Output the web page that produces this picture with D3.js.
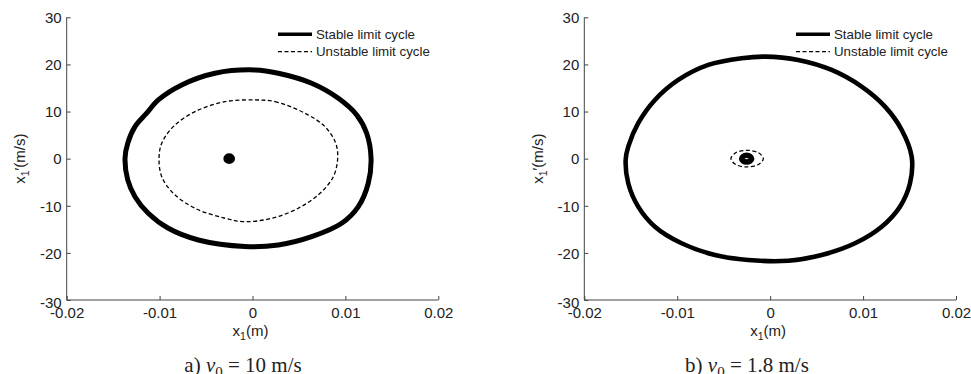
<!DOCTYPE html>
<html>
<head>
<meta charset="utf-8">
<script src="https://cdn.jsdelivr.net/npm/d3@7"></script>
<style>
  body { margin: 0; background: #fff; }
  svg text { font-family: "Liberation Sans", Arial, sans-serif; fill: #222; }
  .caption { font-family: "Liberation Serif", "Times New Roman", serif; }
</style>
</head>
<body>
<div id="chart"></div>
<script>
// axis ticks
const xTicks = [-0.02, -0.01, 0, 0.01, 0.02];
const yTicks = [-30, -20, -10, 0, 10, 20, 30];

// panel a) v0 = 10 m/s -- points read off the phase portrait [x1, x1']
const stableA = [[0.00027, 18.83], [0.00278, 18.13], [0.00637, 16.01], [0.00924, 12.82], [0.01122, 9.28],
    [0.01229, 5.39], [0.01276, 0.08], [0.01246, -5.22], [0.01139, -10.19], [0.0096, -13.72],
    [0.00637, -16.56], [0.00278, -18.32], [-0.00081, -18.65], [-0.00583, -17.26],
    [-0.00906, -14.78], [-0.01122, -11.59], [-0.01265, -8.07], [-0.01343, -4.52], [-0.01372, 0.08],
    [-0.01343, 3.27], [-0.01265, 6.79], [-0.01139, 9.64], [-0.01014, 12.46], [-0.00762, 15.65],
    [-0.00404, 18.13]];
const unstableA = [[0.00027, 12.46], [0.00242, 12.1], [0.00565, 9.64], [0.0078, 6.79], [0.00896, 3.27],
    [0.00917, 0.08], [0.0087, -3.82], [0.00727, -7.35], [0.00493, -10.53], [0.00207, -12.65],
    [-0.00081, -13.38], [-0.00296, -12.65], [-0.00619, -10.53], [-0.00853, -7.35], [-0.00977, -3.82],
    [-0.01006, 0.08], [-0.00977, 3.27], [-0.00853, 6.79], [-0.00619, 9.98], [-0.00296, 12.1]];
const equilA = [[-0.00251, 0.6], [-0.00226, 0.42], [-0.00215, 0], [-0.00226, -0.42],
    [-0.00251, -0.6], [-0.00276, -0.42], [-0.00287, 0], [-0.00276, 0.42]];

// panel b) v0 = 1.8 m/s
const stableB = [[-0.00056, 21.66], [0.00302, 20.96], [0.00662, 18.83], [0.00985, 15.29], [0.01236, 11.04],
    [0.01416, 6.09], [0.01523, 0.42], [0.01505, -5.22], [0.01397, -10.19], [0.012, -14.44],
    [0.00913, -17.96], [0.00554, -20.45], [0.00195, -21.66], [-0.00236, -21.51], [-0.00594, -20.45],
    [-0.00953, -17.96], [-0.0124, -14.44], [-0.0142, -10.19], [-0.01527, -5.22], [-0.01555, -0.28],
    [-0.01527, 2.55], [-0.0142, 7.52], [-0.0124, 12.46], [-0.00989, 16.71], [-0.00666, 19.89],
    [-0.00307, 21.32]];
const unstableB = [[-0.00248, 1.76], [-0.00125, 1.24], [-0.00074, 0], [-0.00125, -1.24],
    [-0.00248, -1.76], [-0.00371, -1.24], [-0.00422, 0], [-0.00371, 1.24]];
const innerB = [[-0.00253, 0.7], [-0.00215, 0.49], [-0.00199, 0], [-0.00215, -0.49],
    [-0.00253, -0.7], [-0.00291, -0.49], [-0.00307, 0], [-0.00291, 0.49]];

const legendLabels = ["Stable limit cycle", "Unstable limit cycle"];

const svg = d3.select("#chart").append("svg")
    .attr("width", 971)
    .attr("height", 374);

function drawPanel(p) {
    const x = d3.scaleLinear().domain([-0.02, 0.02]).range([p.left, p.right]);
    const y = d3.scaleLinear().domain([-30, 30]).range([300, 17.3]);
    const g = svg.append("g");

    // axes, MATLAB style: inner ticks, left + bottom only
    g.append("g")
        .attr("transform", "translate(0,300)")
        .call(d3.axisBottom(x).tickValues(xTicks).tickSize(-4).tickFormat(d => String(d)))
        .call(a => a.select(".domain").attr("stroke", "#444").attr("d", `M${p.left},0H${p.right}`))
        .call(a => a.selectAll("line").attr("stroke", "#444"))
        .call(a => a.selectAll("text").attr("font-size", 15).attr("fill", "#222").attr("dy", "0.35em").attr("y", 12.5));
    g.append("g")
        .attr("transform", `translate(${p.left},0)`)
        .call(d3.axisLeft(y).tickValues(yTicks).tickSize(-4).tickFormat(d => String(d)))
        .call(a => a.select(".domain").attr("stroke", "#444").attr("d", "M0,17.3V300"))
        .call(a => a.selectAll("line").attr("stroke", "#444"))
        .call(a => a.selectAll("text").attr("font-size", 15).attr("fill", "#222").attr("x", -5)
            .attr("dy", d => d === -30 ? "0.5em" : "0.35em"));

    // axis titles
    const xl = g.append("text")
        .attr("x", (p.left + p.right) / 2 - 2)
        .attr("y", 336)
        .attr("text-anchor", "middle")
        .attr("font-size", 15);
    xl.append("tspan").text("x");
    xl.append("tspan").attr("font-size", 10.5).attr("dy", 4).text("1");
    xl.append("tspan").attr("dy", -4).text("(m)");

    const yl = g.append("text")
        .attr("transform", `translate(${p.left - 41.5},158.7) rotate(-90)`)
        .attr("text-anchor", "middle")
        .attr("font-size", 15);
    yl.append("tspan").text("x");
    yl.append("tspan").attr("font-size", 10.5).attr("dy", 4).text("1");
    yl.append("tspan").attr("dy", -4).text("\u2032(m/s)");

    const line = d3.line()
        .x(d => x(d[0]))
        .y(d => y(d[1]))
        .curve(d3.curveCatmullRomClosed.alpha(0.5));

    p.stable.forEach(s => {
        g.append("path")
            .attr("d", line(s.pts))
            .attr("fill", s.fill || "none")
            .attr("stroke", "#000")
            .attr("stroke-width", s.w);
    });
    p.unstable.forEach(pts => {
        g.append("path")
            .attr("d", line(pts))
            .attr("fill", "none")
            .attr("stroke", "#000")
            .attr("stroke-width", 1.3)
            .attr("stroke-dasharray", "4,2.5");
    });

    // legend
    const lg = g.append("g").attr("transform", `translate(${p.legX},0)`);
    lg.append("line").attr("x1", 0).attr("x2", 34).attr("y1", 34.3).attr("y2", 34.3)
        .attr("stroke", "#000").attr("stroke-width", 3.5);
    lg.append("line").attr("x1", 0).attr("x2", 34).attr("y1", 51.7).attr("y2", 51.7)
        .attr("stroke", "#000").attr("stroke-width", 1.3).attr("stroke-dasharray", "4,2.5");
    lg.selectAll("text.leg")
        .data(legendLabels)
        .enter().append("text")
            .attr("class", "leg")
            .attr("x", 38)
            .attr("y", (d, i) => 39 + i * 17.4)
            .attr("font-size", 13.3)
            .text(d => d);

    // caption
    const cap = g.append("text")
        .attr("class", "caption")
        .attr("x", p.capX)
        .attr("y", 372)
        .attr("text-anchor", "middle")
        .attr("font-size", 21)
        .attr("fill", "#000");
    cap.append("tspan").text(p.capPre + " ");
    cap.append("tspan").attr("font-style", "italic").text("v");
    cap.append("tspan").attr("font-size", 15).attr("dy", 5).text("0");
    cap.append("tspan").attr("dy", -5).text(" = " + p.capVal + " m/s");
}

drawPanel({
    left: 66.7, right: 438.3, legX: 278, capX: 243,
    capPre: "a)", capVal: "10",
    stable: [{pts: stableA, w: 5}, {pts: equilA, w: 5, fill: "#000"}],
    unstable: [unstableA]
});
drawPanel({
    left: 584.3, right: 956, legX: 796, capX: 747,
    capPre: "b)", capVal: "1.8",
    stable: [{pts: stableB, w: 4.6}, {pts: innerB, w: 5.5}],
    unstable: [unstableB]
});
</script>
</body>
</html>
